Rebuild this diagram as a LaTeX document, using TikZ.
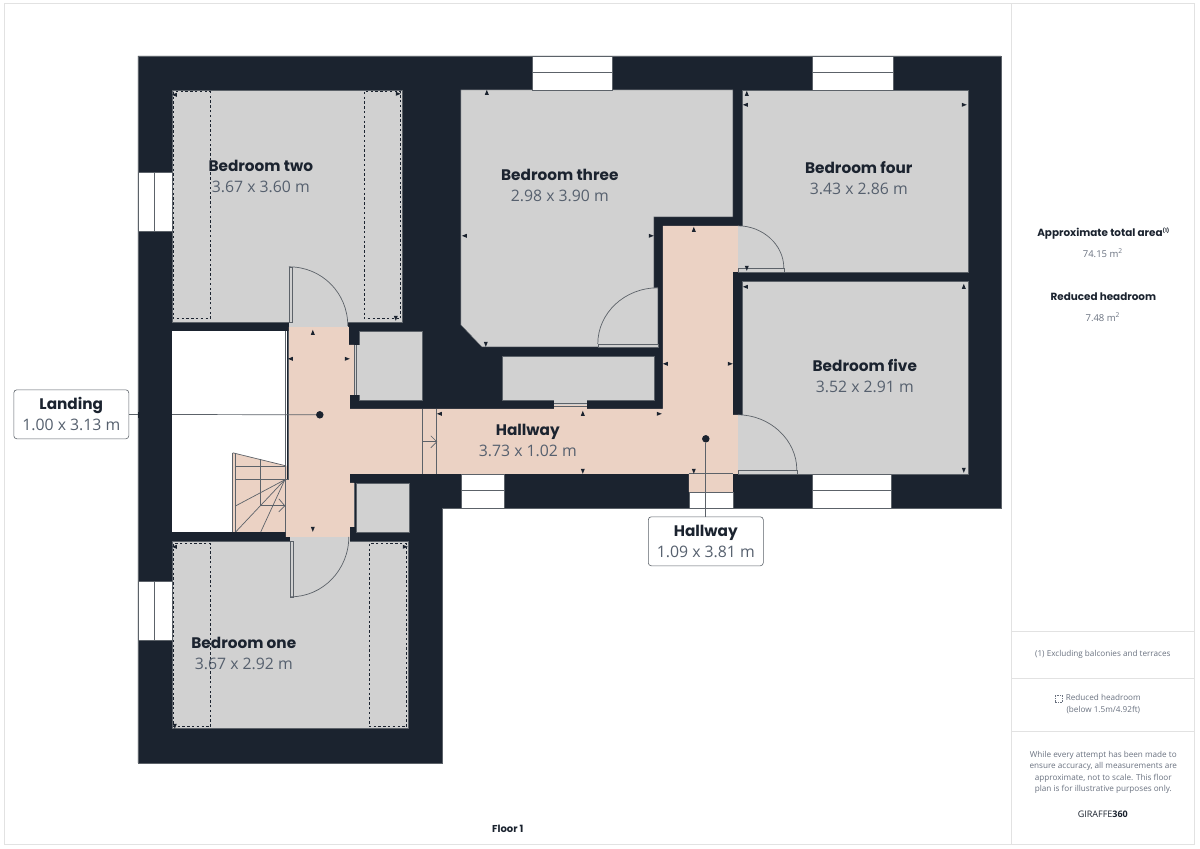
\documentclass[tikz,border=0pt]{standalone}
\usepackage{fontspec}
\setmainfont{Open Sans}
\newfontfamily\labelfont{Poppins}
\usepackage{tikz}

\definecolor{wallcol}{HTML}{1B232F}
\definecolor{roomcol}{HTML}{D1D1D1}
\definecolor{hallcol}{HTML}{EBD2C4}
\definecolor{inkcol}{HTML}{1B232F}
\definecolor{dimcol}{HTML}{56606E}
\definecolor{linecol}{HTML}{5C6269}
\definecolor{framecol}{HTML}{E2E2E2}
\definecolor{notecol}{HTML}{6A7280}

\tikzset{
	wall/.style={fill=wallcol,draw=linecol,line width=.5pt},
	room/.style={fill=roomcol,draw=linecol,line width=.4pt},
	hall/.style={fill=hallcol},
	windowbox/.style={fill=white,draw=linecol,line width=.5pt},
	thinline/.style={draw=linecol,line width=.7pt},
	slideline/.style={draw=linecol,line width=.4pt},
	doorleaf/.style={fill=roomcol,draw=linecol,line width=.5pt},
	lowroof/.style={draw=wallcol,line width=1.1pt,dash pattern=on 2.4pt off 2.4pt},
	roomname/.style={font=\labelfont\bfseries\fontsize{15.3}{18}\selectfont,text=inkcol,inner sep=0pt,text height=11pt,text depth=0pt},
	roomsize/.style={font=\fontsize{15.8}{18}\selectfont,text=dimcol,inner sep=0pt},
	tagbox/.style={draw=linecol,fill=white,rounded corners=3pt,line width=.6pt,minimum width=115pt,minimum height=49pt,inner sep=0pt},
	pindot/.style={circle,fill=wallcol,minimum size=7.5pt,inner sep=0pt},
	sidehead/.style={font=\labelfont\bfseries\fontsize{10.4}{13}\selectfont,text=inkcol,inner sep=0pt,text height=8pt,text depth=0pt},
	sidenote/.style={font=\fontsize{8.15}{11.6}\selectfont,text=notecol,inner sep=0pt,align=center},
	sideval/.style={font=\fontsize{9.5}{12}\selectfont,text=notecol,inner sep=0pt},
}

\begin{document}
\begin{tikzpicture}[x=1pt,y=-1pt]
	\useasboundingbox (.2,.2) rectangle (1200.2,849.2);
	\fill[white] (.2,.2) rectangle (1200.2,849.2);
	% sheet frame
	\draw[framecol,line width=.8pt] (5,4) rectangle (1195,845);
	\draw[framecol,line width=.8pt] (1012,4) -- (1012,845);
	\foreach \y in {632,679,732}
		\draw[framecol,line width=.8pt] (1012,\y) -- (1195,\y);

	% walls
	\draw[wall] (138,56) -- (1001,56) -- (1001,508) -- (442,508) -- (442,763) -- (138,763) -- cycle;

	% rooms
	\draw[room] (172,90) rectangle (402,322);
	\draw[room] (461,90) -- (733,90) -- (733,217) -- (654,217) -- (654,288) -- (658,288) -- (658,347) -- (482,347) -- (461,325) -- cycle;
	\draw[room] (742,90) rectangle (968,272);
	\draw[room] (742,281) rectangle (968,474);
	\draw[room] (172,541) rectangle (408,728);
	\draw[room] (359,331) rectangle (422,400);
	\draw[room] (502,356) rectangle (654,400);
	\draw[room] (356,483) rectangle (409,532);
	\fill[roomcol] (355,345) rectangle (360,395);
	\fill[white] (172,331) rectangle (287,532);

	% hall floor
	\fill[hall] (289,327) -- (349,327) -- (349,345) -- (354,345) -- (354,395) -- (350,395) -- (350,409) -- (663,409) -- (663,226) -- (738,226) -- (738,272) -- (733,272) -- (733,415) -- (738,415) -- (738,474) -- (733,474) -- (733,492) -- (689,492) -- (689,474) -- (350,474) -- (350,483) -- (354,483) -- (354,527) -- (350,527) -- (350,537) -- (286,537) -- (286,480) -- (289,480) -- cycle;

	% door openings
	\fill[roomcol] (289,320) rectangle (348,327);
	\fill[roomcol] (290,537) rectangle (350,543);
	\fill[roomcol] (738,226) rectangle (743,272);
	\fill[roomcol] (738,415) rectangle (743,474);
	\fill[roomcol] (554,400) rectangle (587,405);
	\fill[hallcol] (554,405) rectangle (587,409);

	% windows
	\foreach \xa/\xb in {532/612,812/893}{
		\draw[windowbox] (\xa,56) rectangle (\xb,90);
		\draw[thinline] (\xa,73) -- (\xb,73);
	}
	\foreach \xa/\xb in {461/504,812/891}{
		\draw[windowbox] (\xa,474) rectangle (\xb,508);
		\draw[thinline] (\xa,491) -- (\xb,491);
	}
	\draw[windowbox] (689,492) rectangle (733,508);
	\draw[thinline] (689,474) -- (733,474);
	\foreach \ya/\yb in {172/231,581/640}{
		\draw[windowbox] (138,\ya) rectangle (172,\yb);
		\draw[thinline] (155,\ya) -- (155,\yb);
	}

	% doors
	\draw[doorleaf] (289,267) rectangle (292,322);
	\draw[thinline] (289,267) .. controls (322,267) and (348,293) .. (348,326);
	\draw[doorleaf] (290,541) rectangle (293,597);
	\draw[thinline] (349,537) .. controls (349,570) and (323,597) .. (291,597);
	\draw[doorleaf] (598,344) rectangle (658,347);
	\draw[thinline] (598,344) .. controls (598,313) and (625,288) .. (658,288);
	\draw[doorleaf] (738,268) rectangle (784,272);
	\draw[thinline] (738,226) .. controls (763,226) and (784,245) .. (784,268);
	\draw[doorleaf] (738,470) rectangle (797,474);
	\draw[thinline] (738,415) .. controls (770,415) and (797,440) .. (797,470);

	% sliding doors
	\foreach \ya/\yb in {345/395,483/527}{
		\draw[slideline] (354,\ya) -- (354,\yb);
		\draw[slideline] (356,\ya) -- (356,\yb);
	}
	\draw[slideline] (554,403) -- (587,403);
	\draw[slideline] (554,406.5) -- (587,406.5);

	% stairs
	\fill[hall] (233,453) -- (287,466) -- (287,532) -- (233,532) -- cycle;
	\draw[thinline] (233,453) -- (286,466);
	\draw[thinline] (233,453) -- (233,532);
	\draw[thinline] (236,454) -- (236,532);
	\draw[thinline] (261,459) -- (261,506);
	\draw[thinline] (236,467) -- (286,467);
	\draw[thinline] (236,480) -- (286,480);
	\draw[thinline] (261,506) -- (285,506);
	\draw[thinline] (286,466) -- (286,532);
	\draw[thinline] (289,331) -- (289,480) -- (286,480);
	\draw[thinline] (286,331) -- (286,466);
	\foreach \x/\y in {236/506,236/532,261/532}
		\draw[thinline] (285,480) -- (\x,\y);
	\draw[thinline] (279,499) -- (285,506) -- (279,512);

	% threshold
	\draw[thinline] (423,409) -- (423,474);
	\draw[thinline] (437,409) -- (437,474);
	\draw[thinline] (423,442) -- (437,442);
	\draw[thinline] (431,436) -- (437,442) -- (431,448);

	% reduced headroom
	\draw[lowroof] (173.5,92) rectangle (210.5,319);
	\draw[lowroof] (364.5,92) rectangle (401,319);
	\draw[lowroof] (173.5,544) rectangle (211,727);
	\draw[lowroof] (369.5,544) rectangle (407,727);

	% wall ticks
	\foreach \x/\y/\a in {
		487/93/0,486/344/180,465/236/90,651/236/-90,
		747/94/0,746/105/90,964/105/-90,747/268/180,
		746/287/90,964/287/0,964/470/180,
		175/95/90,398/94/-90,396/318/180,
		313/333/0,313/529/180,291/359/90,347/359/-90,
		440/414/90,659/414/-90,583/414/0,583/471/180,694/471/180,
		694/230/0,666/364/90,730/364/-90,
		175/547/90,175/726/180,405/547/-90}
		\fill[wallcol,shift={(\x,\y)},rotate=\a] (0pt,3pt) -- (-2pt,-2pt) -- (2pt,-2pt) -- cycle;

	% tags and pins
	\node[pindot] (landingpin) at (320,415) {};
	\node[pindot] (hallpin) at (706,439) {};
	\node[tagbox] (landingtag) at (71.5,414.5) {};
	\node[tagbox] (halltag) at (706,541.5) {};
	\draw[thinline] (landingtag) -- (landingpin);
	\fill[wallcol] (138,412) rectangle (172,418);
	\draw[thinline] (halltag) -- (hallpin);

	\node[roomname] (landingname) at (71.5,404) {Landing};
	\node[roomsize] (landingsize) at (71.5,425) {1.00 x 3.13 m};
	\node[roomname] (hallname) at (706,531) {Hallway};
	\node[roomsize] (hallsize) at (706,552) {1.09 x 3.81 m};

	% room labels
	\node[roomname] (twoname) at (261,166) {Bedroom two};
	\node[roomsize] (twosize) at (261,187) {3.67 x 3.60 m};
	\node[roomname] (threename) at (560,175) {Bedroom three};
	\node[roomsize] (threesize) at (560,196) {2.98 x 3.90 m};
	\node[roomname] (fourname) at (859,168) {Bedroom four};
	\node[roomsize] (foursize) at (859,189) {3.43 x 2.86 m};
	\node[roomname] (fivename) at (865,366) {Bedroom five};
	\node[roomsize] (fivesize) at (865,387) {3.52 x 2.91 m};
	\node[roomname] (corrname) at (528,430) {Hallway};
	\node[roomsize] (corrsize) at (528,451) {3.73 x 1.02 m};
	\node[roomname] (onename) at (244,643) {Bedroom one};
	\node[roomsize] (onesize) at (244,664) {3.67 x 2.92 m};

	% side panel
	\node[sidehead] (areahead) at (1103.5,233) {Approximate total area\raisebox{4pt}{\fontsize{5}{5}\selectfont(1)}};
	\node[sideval] (areaval) at (1103,253) {74.15 m\textsuperscript{2}};
	\node[sidehead] (lowhead) at (1103.5,297) {Reduced headroom};
	\node[sideval] (lowval) at (1103,317) {7.48 m\textsuperscript{2}};
	\node[sidenote] (footnote) at (1103,655) {(1) Excluding balconies and terraces};
	\node[sidenote] (lownote) at (1103.5,704.5) {Reduced headroom\\(below 1.5m/4.92ft)};
	\draw[draw=notecol,line width=.5pt,dash pattern=on 1.5pt off 1pt] (1055,695.5) rectangle (1062.5,702.5);
	\node[sidenote] (disclaimer) at (1103.5,772.5) {While every attempt has been made to\\ensure accuracy, all measurements are\\approximate, not to scale. This floor\\plan is for illustrative purposes only.};
	\node[font=\fontsize{9}{11}\selectfont,text=inkcol,inner sep=0pt] (brand) at (1103,814) {GIRAFFE\textbf{360}};
	\node[font=\labelfont\bfseries\fontsize{10}{12}\selectfont,text=inkcol,inner sep=0pt] (floorname) at (508,829) {Floor 1};
\end{tikzpicture}
\end{document}
